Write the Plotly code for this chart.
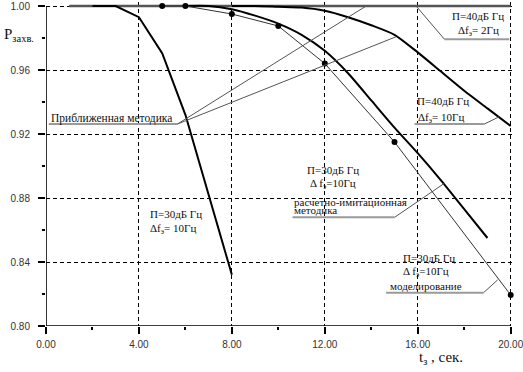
import plotly.graph_objects as go

# --- data ---
t_flat = [1, 20]
p_flat = [1.0, 1.0]                      # П=40дБ Гц, Δfэ=2Гц (приближенная)

t_40_10 = [8, 9, 10, 11, 12, 13, 14, 15, 16, 17, 18, 19, 20]
p_40_10 = [1.0, 1.0, 0.9995, 0.999, 0.997, 0.993, 0.988, 0.982, 0.971, 0.959, 0.947, 0.936, 0.925]

t_30_10 = [2, 3, 4, 5, 6, 7, 8]
p_30_10 = [1.0, 1.0, 0.993, 0.9705, 0.932, 0.882, 0.832]

t_30_sim = [6, 7, 8, 9, 10, 11, 12, 13, 14, 15, 16, 17, 18, 19]
p_30_sim = [1.0, 1.0, 0.998, 0.994, 0.989, 0.982, 0.972, 0.958, 0.941, 0.924, 0.908, 0.891, 0.873, 0.855]

t_model = [5, 6, 8, 10, 12, 15, 20]
p_model = [1.0, 1.0, 0.995, 0.9875, 0.964, 0.915, 0.8194]

x_ticks = [0, 4, 8, 12, 16, 20]
y_ticks = [0.80, 0.84, 0.88, 0.92, 0.96, 1.00]

SERIF = "Liberation Serif, Times New Roman, serif"
SANS = "Liberation Sans, Arial, sans-serif"

fig = go.Figure()
fig.add_trace(go.Scatter(x=t_flat, y=p_flat, mode="lines",
                         line=dict(color="#555555", width=2.5), hoverinfo="skip"))
fig.add_trace(go.Scatter(x=t_40_10, y=p_40_10, mode="lines",
                         line=dict(color="black", width=2, shape="spline", smoothing=0.7)))
fig.add_trace(go.Scatter(x=t_30_sim, y=p_30_sim, mode="lines",
                         line=dict(color="black", width=2, shape="spline", smoothing=0.7)))
fig.add_trace(go.Scatter(x=t_30_10, y=p_30_10, mode="lines",
                         line=dict(color="black", width=2)))
fig.add_trace(go.Scatter(x=t_model, y=p_model, mode="lines+markers",
                         line=dict(color="#333333", width=1),
                         marker=dict(color="black", size=6), cliponaxis=False))

# leader lines / underlines (data coordinates)
def seg(x0, y0, x1, y1, color="#555555", width=1):
    fig.add_shape(type="line", x0=x0, y0=y0, x1=x1, y1=y1, xref="x", yref="y",
                  line=dict(color=color, width=width), layer="above")

UL = "#9a9a9a"
# Приближенная методика
seg(0.12, 0.92625, 5.66, 0.92625, UL, 2)
seg(5.66, 0.92625, 13.78, 1.0)
seg(5.66, 0.92625, 15.07, 0.9808)
# П=40, Δf=2
seg(17.15, 0.9792, 19.94, 0.9792, UL, 2)
seg(17.15, 0.9792, 15.93, 1.0)
# П=40, Δf=10
seg(15.86, 0.92625, 18.87, 0.92625, UL, 2)
seg(18.87, 0.92625, 19.51, 0.9308)
# расчетно-имитационная
seg(10.61, 0.8679, 15.0, 0.8679, UL, 2)
seg(15.0, 0.8679, 17.15, 0.8892)
# моделирование
seg(14.64, 0.8208, 18.83, 0.8208, UL, 2)
seg(18.83, 0.8208, 19.44, 0.8288)

# axis lines
seg(0, 0.8, 20, 0.8, "black", 1.6)
seg(0, 0.8, 0, 1.0, "black", 1.6)

def txt(x, y, s, xanchor="left", size=11, bg=None):
    fig.add_annotation(x=x, y=y, xref="x", yref="y", text=s, showarrow=False,
                       xanchor=xanchor, yanchor="middle",
                       font=dict(family=SERIF, size=size, color="#111111"),
                       bgcolor=bg, borderpad=0)

txt(0.16, 0.9297, "Приближенная методика", size=11.5)
txt(18.6, 0.9937, "П=40дБ Гц", "center")
txt(18.6, 0.9843, "Δf<sub>э</sub>= 2Гц", "center")
txt(15.94, 0.9406, "П=40дБ Гц")
txt(15.96, 0.9302, "Δf<sub>э</sub>= 10Гц")
txt(12.35, 0.8972, "П=30дБ Гц", "center")
txt(12.35, 0.8889, "Δ f<sub>э</sub>=10Гц", "center")
txt(10.61, 0.8778, "расчетно-имитационная")
txt(10.61, 0.8725, "методика")
txt(16.5, 0.8422, "П=30дБ Гц", "center")
txt(16.35, 0.8335, "Δ f<sub>э</sub>=10Гц", "center")
txt(16.35, 0.8252, "моделирование", "center")
txt(4.42, 0.8700, "П=30дБ Гц")
txt(4.42, 0.8606, "Δf<sub>э</sub>= 10Гц")

# axis titles (pixel-positioned via xshift/yshift from the plot's top-left corner)
fig.add_annotation(x=0, y=1, xref="paper", yref="paper",
                   text="P<sub>захв.</sub>", showarrow=False, xanchor="left", yanchor="top",
                   xshift=-44, yshift=-22,
                   font=dict(family=SERIF, size=15, color="#111111"))
fig.add_annotation(x=0.795, y=-0.1, xref="paper", yref="paper",
                   text="t<sub>з</sub> , сек.", showarrow=False, xanchor="left", yanchor="middle",
                   font=dict(family=SERIF, size=15, color="#111111"))

fig.update_layout(
    width=523, height=372,
    margin=dict(l=46, r=10, t=2, b=46, autoexpand=False),
    paper_bgcolor="white", plot_bgcolor="white",
    showlegend=False,
    xaxis=dict(range=[0, 20.1], tickvals=x_ticks, tickformat=".2f",
               showline=False, zeroline=False,
               showgrid=True, gridcolor="black", gridwidth=1, griddash="4px,3px",
               ticks="outside", ticklen=7, tickwidth=1.5, tickcolor="black",
               ticklabelstandoff=2, ticklabeloverflow="allow",
               minor=dict(dtick=2, tick0=0, ticks="outside", ticklen=3, tickwidth=1.5,
                          tickcolor="black", showgrid=False),
               tickfont=dict(family=SANS, size=10, color="#333333")),
    yaxis=dict(range=[0.8, 1.0025], tickvals=y_ticks, tickformat=".2f",
               showline=False, zeroline=False,
               showgrid=True, gridcolor="black", gridwidth=1, griddash="4px,3px",
               ticks="outside", ticklen=7, tickwidth=1.5, tickcolor="black",
               ticklabelstandoff=6, ticklabeloverflow="allow",
               minor=dict(dtick=0.02, tick0=0.8, ticks="outside", ticklen=3, tickwidth=1.5,
                          tickcolor="black", showgrid=False),
               tickfont=dict(family=SANS, size=10, color="#333333")),
)

fig.write_html("out.html", config={"displayModeBar": False},
               post_script="document.body.style.margin='0';document.body.style.padding='0';")
